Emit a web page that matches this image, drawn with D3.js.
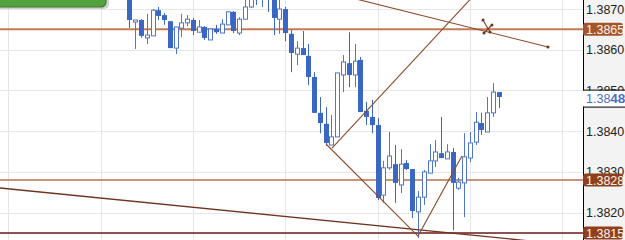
<!DOCTYPE html>
<html><head><meta charset="utf-8">
<script src="https://cdn.jsdelivr.net/npm/d3@7"></script>
<style>html,body{margin:0;padding:0;background:#fff;overflow:hidden}</style>
</head><body><svg id="c" width="625" height="240"></svg>
<script>
// ---- data ----
const openP  = [1.38737,1.38668,1.38673,1.38629,1.38634,1.38697,1.38685,1.38670,1.38604,1.38653,1.38666,1.38673,1.38643,1.38656,1.38624,1.38651,1.38641,1.38661,1.38693,1.38641,1.38675,1.38705,1.38759,1.38727,1.38756,1.38727,1.38675,1.38700,1.38639,1.38589,1.38604,1.38585,1.38533,1.38445,1.38418,1.38366,1.38386,1.38538,1.38567,1.38538,1.38575,1.38450,1.38435,1.38415,1.38243,1.38310,1.38319,1.38268,1.38322,1.38307,1.38202,1.38238,1.38297,1.38327,1.38346,1.38332,1.38349,1.38260,1.38273,1.38334,1.38373,1.38420,1.38398,1.38445,1.38496];
const highP  = [1.38747,1.38673,1.38675,1.38688,1.38700,1.38705,1.38690,1.38670,1.38656,1.38688,1.38685,1.38678,1.38673,1.38658,1.38651,1.38661,1.38675,1.38695,1.38695,1.38680,1.38729,1.38751,1.38771,1.38759,1.38761,1.38732,1.38724,1.38705,1.38648,1.38621,1.38646,1.38614,1.38545,1.38484,1.38459,1.38440,1.38543,1.38587,1.38643,1.38614,1.38582,1.38472,1.38477,1.38432,1.38327,1.38398,1.38366,1.38356,1.38329,1.38307,1.38253,1.38305,1.38368,1.38378,1.38435,1.38368,1.38359,1.38285,1.38395,1.38398,1.38447,1.38445,1.38484,1.38518,1.38496];
const lowP   = [1.38653,1.38602,1.38629,1.38614,1.38634,1.38673,1.38661,1.38604,1.38589,1.38631,1.38658,1.38636,1.38643,1.38624,1.38624,1.38639,1.38641,1.38661,1.38641,1.38636,1.38675,1.38702,1.38710,1.38705,1.38693,1.38636,1.38639,1.38621,1.38545,1.38562,1.38587,1.38513,1.38445,1.38395,1.38364,1.38366,1.38386,1.38496,1.38508,1.38508,1.38447,1.38415,1.38395,1.38231,1.38224,1.38305,1.38224,1.38248,1.38305,1.38187,1.38138,1.38219,1.38297,1.38312,1.38334,1.38332,1.38157,1.38256,1.38189,1.38324,1.38366,1.38391,1.38398,1.38435,1.38457];
const closeP = [1.38673,1.38673,1.38634,1.38636,1.38697,1.38683,1.38673,1.38604,1.38656,1.38666,1.38675,1.38646,1.38656,1.38629,1.38651,1.38643,1.38663,1.38693,1.38646,1.38675,1.38705,1.38742,1.38729,1.38751,1.38724,1.38678,1.38700,1.38641,1.38592,1.38604,1.38587,1.38533,1.38445,1.38420,1.38371,1.38386,1.38543,1.38570,1.38538,1.38572,1.38447,1.38435,1.38415,1.38236,1.38310,1.38339,1.38273,1.38319,1.38307,1.38204,1.38238,1.38300,1.38327,1.38349,1.38334,1.38349,1.38273,1.38275,1.38337,1.38371,1.38422,1.38403,1.38445,1.38496,1.38484];
const candleIdx = d3.range(openP.length);
const priceTicks = [1.3870, 1.3860, 1.3850, 1.3840, 1.3830, 1.3820];
const timeGridIdx = [-21, -5, 11, 27, 43, 59, 75];
const levelPrices = [1.3865, 1.3828, 1.3815];
const levelLabels = ["1.3865", "1.3828", "1.3815"];
const lastPrice = 1.3848;
// trend lines: [candle index, price] pairs
const trendA = [[-22.44, 1.382605], [78.6, 1.381173]];
const trendE = [[36.48, 1.387344], [72.53, 1.386067]];
const trendUp = [[35.1, 1.383587], [60.4, 1.387442]];
const trendZig = [[34.06, 1.383685], [50.0, 1.381426], [57.62, 1.383391]];
const crossA = [[61.27, 1.38673], [62.48, 1.386435]];
const crossB = [[61.44, 1.386411], [62.82, 1.386607]];

// ---- chart ----
const W = 625, H = 240, axisX = 583;
const svg = d3.select("#c");
const x = d3.scaleLinear().domain([-22.44, 78.6]).range([0, axisX]);
const y = d3.scaleLinear().domain([1.3815, 1.3870]).range([233, 9]);

svg.append("defs").append("clipPath").attr("id", "plot")
  .append("rect").attr("x", 0).attr("y", 0).attr("width", axisX).attr("height", H);

svg.append("rect").attr("x", axisX).attr("y", 0).attr("width", W - axisX).attr("height", H).attr("fill", "#f3f3f4");

const plot = svg.append("g").attr("clip-path", "url(#plot)");

// grid
plot.selectAll(".hg").data(priceTicks).enter().append("line")
  .attr("x1", 0).attr("x2", axisX)
  .attr("y1", d => Math.round(y(d)) + 0.5).attr("y2", d => Math.round(y(d)) + 0.5)
  .attr("stroke", "#e4e6ea").attr("stroke-width", 1);
plot.selectAll(".vg").data(timeGridIdx).enter().append("line")
  .attr("y1", 0).attr("y2", H)
  .attr("x1", d => Math.round(x(d)) + 0.5).attr("x2", d => Math.round(x(d)) + 0.5)
  .attr("stroke", "#e4e6ea").attr("stroke-width", 1);

// horizontal levels
const levelColors = ["#c47a55", "#b8704c", "#6a1818"];
const levelWidths = [2, 1.6, 1.6];
plot.selectAll(".lv").data(levelPrices).enter().append("line")
  .attr("x1", 0).attr("x2", axisX)
  .attr("y1", d => y(d)).attr("y2", d => y(d))
  .attr("stroke", (d, i) => levelColors[i]).attr("stroke-width", (d, i) => levelWidths[i]);

// candles
const filledCol = "#3a66c4", hollowCol = "#4f76cc";
const cg = plot.append("g");
cg.selectAll(".wick").data(candleIdx).enter().append("line")
  .attr("x1", i => Math.round(x(i)) + 0.5).attr("x2", i => Math.round(x(i)) + 0.5)
  .attr("y1", i => y(highP[i])).attr("y2", i => y(lowP[i]))
  .attr("stroke", i => closeP[i] >= openP[i] ? hollowCol : filledCol).attr("stroke-width", 1);
cg.selectAll(".body").data(candleIdx).enter().append("rect")
  .attr("x", i => closeP[i] >= openP[i] ? Math.round(x(i)) - 1.5 : Math.round(x(i)) - 2)
  .attr("width", i => closeP[i] >= openP[i] ? 4 : 5)
  .attr("y", i => y(Math.max(openP[i], closeP[i])))
  .attr("height", i => Math.max(1, Math.abs(y(openP[i]) - y(closeP[i]))))
  .attr("fill", i => closeP[i] >= openP[i] ? "#ffffff" : filledCol)
  .attr("stroke", i => closeP[i] >= openP[i] ? hollowCol : "none")
  .attr("stroke-width", 1);

// trend lines
const line = d3.line().x(d => x(d[0])).y(d => y(d[1]));
plot.append("path").attr("d", line(trendA)).attr("fill", "none").attr("stroke", "#6e3420").attr("stroke-width", 1.3);
plot.append("path").attr("d", line(trendE)).attr("fill", "none").attr("stroke", "#8e4a2a").attr("stroke-width", 1.1);
plot.append("path").attr("d", line(trendUp)).attr("fill", "none").attr("stroke", "#8e4a2a").attr("stroke-width", 1.1);
plot.append("path").attr("d", line(trendZig)).attr("fill", "none").attr("stroke", "#8e4a2a").attr("stroke-width", 1.1);
plot.append("path").attr("d", line(crossA)).attr("fill", "none").attr("stroke", "#7a3a20").attr("stroke-width", 1.1);
plot.append("path").attr("d", line(crossB)).attr("fill", "none").attr("stroke", "#7a3a20").attr("stroke-width", 1.1);
const dots = [trendE[1], crossA[0], crossA[1], crossB[0], crossB[1]];
plot.selectAll(".dot").data(dots).enter().append("circle")
  .attr("cx", d => x(d[0])).attr("cy", d => y(d[1])).attr("r", 1.5).attr("fill", "#6e3420");

// green tab top-left
svg.append("rect").attr("x", -10).attr("y", -20).attr("width", 119).attr("height", 29).attr("rx", 5)
  .attr("fill", "rgba(0,0,0,0.18)");
svg.append("rect").attr("x", -10).attr("y", -20).attr("width", 116).attr("height", 27).attr("rx", 5)
  .attr("fill", "#52a340").attr("stroke", "#3b7c2b").attr("stroke-width", 1.2);

// right axis
svg.append("line").attr("x1", axisX + 0.5).attr("x2", axisX + 0.5).attr("y1", 0).attr("y2", H)
  .attr("stroke", "#000").attr("stroke-width", 1);
const axis = d3.axisRight(y).tickValues(priceTicks).tickFormat(d3.format(".4f")).tickSize(0).tickPadding(3);
const ag = svg.append("g").attr("transform", `translate(${axisX},0)`).call(axis);
ag.select(".domain").remove();
ag.selectAll("text").attr("font-family", "Liberation Sans, Arial, sans-serif").attr("font-size", 12.5).attr("fill", "#222");

// level labels
const lbl = svg.selectAll(".lbl").data(levelPrices).enter().append("g");
lbl.append("rect").attr("x", axisX).attr("y", d => y(d) - 6.5).attr("width", 40).attr("height", 13).attr("rx", 3)
  .attr("fill", (d, i) => i === 0 ? "#a4552c" : "#8e3f1c");
lbl.append("text").attr("x", axisX + 3).attr("y", d => y(d) + 4.5).text((d, i) => levelLabels[i])
  .attr("font-family", "Liberation Sans, Arial, sans-serif").attr("font-size", 12.5).attr("fill", "#fff6ee");

// last price label
const ly = y(lastPrice);
svg.append("rect").attr("x", axisX - 1).attr("y", ly - 8).attr("width", W - axisX + 2).attr("height", 16).attr("fill", "#ffffff");
svg.append("line").attr("x1", axisX).attr("x2", W).attr("y1", ly - 8.5).attr("y2", ly - 8.5).attr("stroke", "#000");
svg.append("line").attr("x1", axisX).attr("x2", W).attr("y1", ly + 8.5).attr("y2", ly + 8.5).attr("stroke", "#000");
const lt = svg.append("text").attr("x", axisX + 3).attr("y", ly + 4.5)
  .attr("font-family", "Liberation Sans, Arial, sans-serif").attr("font-size", 12.5).attr("fill", "#4a6fc7");
const ls = d3.format(".4f")(lastPrice);
lt.append("tspan").text(ls.slice(0, 4));
lt.append("tspan").text(ls.slice(4)).attr("font-weight", "bold").attr("font-size", 13.5);
</script></body></html>
